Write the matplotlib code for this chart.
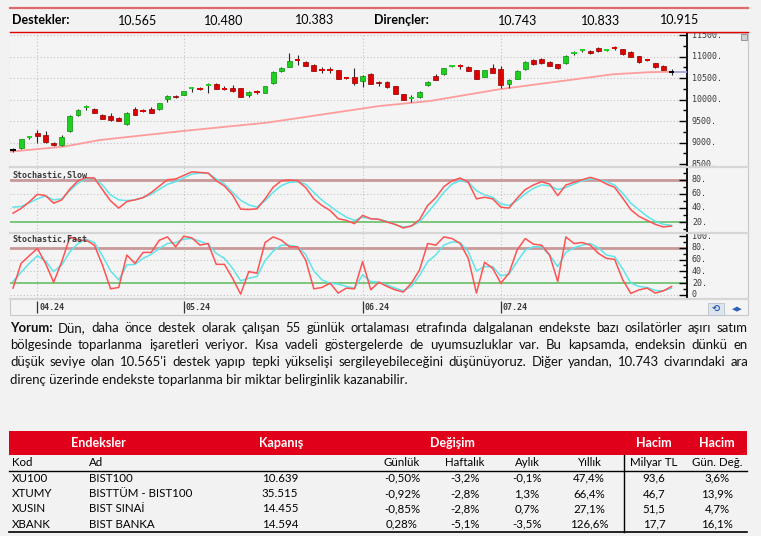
import matplotlib.pyplot as plt
from matplotlib.patches import Rectangle
from matplotlib.lines import Line2D
from matplotlib.transforms import Bbox, TransformedBbox, offset_copy
from matplotlib.ticker import MultipleLocator

# ---------------- data ----------------
support_levels = ['10.565', '10.480', '10.383']
resistance_levels = ['10.743', '10.833', '10.915']

opens = [8830, 8869, 9120, 9232, 9179, 8986, 8946, 9272, 9644, 9810,
         9777, 9644, 9621, 9581, 9435, 9791, 9745, 9777, 9777, 10009,
         10093, 10109, 10260, 10270, 10335, 10365, 10270, 10279, 10265, 10109,
         10178, 10163, 10381, 10667, 10767, 10930, 10869, 10807, 10695, 10695,
         10690, 10505, 10521, 10442, 10598, 10420, 10419, 10319, 10132, 10020,
         10070, 10342, 10551, 10590, 10775, 10800, 10767, 10690, 10535, 10744,
         10714, 10365, 10481, 10707, 10923, 10939, 10884, 10823, 10846, 11070,
         11135, 11140, 11195, 11150, 11215, 11172, 11116, 11016, 10930, 10846,
         10791, 10639]
highs = [8880, 9085, 9160, 9295, 9280, 9010, 9180, 9640, 9780, 9880,
         9810, 9660, 9680, 9600, 9720, 9820, 9780, 9820, 9930, 10110,
         10110, 10210, 10280, 10300, 10395, 10380, 10310, 10350, 10280, 10210,
         10220, 10330, 10660, 10760, 11093, 11040, 10900, 10820, 10770, 10750,
         10700, 10530, 10730, 10570, 10610, 10440, 10440, 10330, 10140, 10100,
         10200, 10430, 10600, 10740, 10800, 10840, 10780, 10700, 10700, 10830,
         10790, 10480, 10680, 10890, 10940, 10960, 10900, 10830, 11030, 11140,
         11150, 11160, 11230, 11175, 11250, 11180, 11125, 11020, 10950, 10860,
         10810, 10720]
lows = [8790, 8860, 9090, 8990, 9000, 8920, 8930, 9250, 9630, 9770,
        9690, 9540, 9510, 9500, 9420, 9640, 9710, 9680, 9770, 9950,
        10040, 10100, 10190, 10220, 10150, 10240, 10230, 10180, 10060, 10060,
        10140, 10150, 10370, 10650, 10750, 10807, 10780, 10670, 10630, 10620,
        10470, 10470, 10340, 10300, 10360, 10320, 10280, 10130, 9990, 9953,
        10050, 10330, 10450, 10580, 10760, 10720, 10670, 10480, 10525, 10620,
        10265, 10265, 10470, 10700, 10800, 10830, 10780, 10720, 10840, 11040,
        11120, 11060, 11120, 11140, 11150, 11040, 10990, 10860, 10890, 10740,
        10680, 10580]
closes = [8830, 9078, 9130, 9155, 9023, 8939, 9125, 9621, 9760, 9820,
          9698, 9544, 9528, 9511, 9698, 9644, 9730, 9698, 9916, 10086,
          10056, 10202, 10270, 10260, 10345, 10242, 10260, 10209, 10070, 10186,
          10168, 10319, 10651, 10744, 10907, 10918, 10791, 10674, 10685, 10685,
          10474, 10495, 10381, 10551, 10365, 10380, 10288, 10132, 9993, 10045,
          10186, 10419, 10458, 10730, 10790, 10785, 10674, 10481, 10690, 10628,
          10342, 10458, 10674, 10884, 10823, 10846, 10791, 10730, 11023, 11085,
          11145, 11079, 11133, 11160, 11205, 11063, 11000, 10869, 10920, 10753,
          10690, 10639]

# 55-day moving average, read at a few points (bar number, value)
ma_pos = [0.6, 7.2, 11.7, 21.9, 32.2, 46.1, 52.3, 60.8, 74.8, 79.0, 81.8]
ma_vals = [8791, 8907, 9063, 9272, 9465, 9854, 9970, 10242, 10591, 10637, 10651]

slow_k = [32.7, 39.3, 48.7, 59.4, 57.5, 46.8, 51.5, 66.9, 78.6, 82.8,
          82.4, 66.0, 50.1, 39.8, 49.1, 51.5, 54.7, 61.8, 71.1, 80.0,
          81.0, 86.1, 91.2, 90.3, 89.4, 78.6, 71.1, 58.5, 38.4, 37.9,
          38.8, 52.9, 69.3, 78.6, 79.5, 78.6, 68.8, 52.9, 43.5, 36.5,
          24.8, 22.4, 17.8, 29.5, 24.8, 23.9, 20.1, 16.8, 11.7, 14.5,
          23.4, 43.5, 54.7, 70.2, 78.6, 82.4, 76.3, 52.9, 55.2, 52.9,
          41.2, 39.8, 53.8, 66.0, 72.5, 77.2, 73.9, 57.5, 72.5, 76.3,
          80.0, 83.3, 80.0, 73.9, 69.2, 53.8, 37.4, 28.1, 22.4, 16.8,
          13.1, 14.5]
slow_d = [41.2, 42.1, 47.2, 52.9, 57.1, 51.5, 52.9, 64.6, 75.3, 81.4,
          82.4, 72.5, 58.5, 51.5, 50.5, 51.5, 54.7, 59.4, 66.4, 73.5,
          77.2, 82.8, 88.0, 89.4, 89.4, 81.0, 73.9, 62.2, 51.0, 44.4,
          41.2, 50.1, 62.2, 71.6, 76.3, 77.2, 73.5, 62.2, 51.0, 42.6,
          34.2, 27.1, 22.4, 27.1, 24.8, 23.9, 21.1, 16.4, 13.1, 14.5,
          20.1, 33.2, 47.2, 62.2, 73.9, 78.6, 76.3, 64.6, 58.5, 55.2,
          45.8, 43.5, 50.5, 59.9, 67.8, 72.5, 71.6, 66.0, 69.2, 73.9,
          78.6, 81.0, 80.0, 77.2, 72.5, 60.8, 46.8, 37.4, 28.1, 21.1,
          16.8, 15.4]
fast_k = [11.3, 53.6, 66.6, 79.0, 53.6, 21.4, 56.5, 98.8, 93.2, 93.2,
          84.7, 50.8, 10.1, 12.4, 67.8, 53.6, 72.3, 72.3, 93.2, 98.8,
          81.9, 100.0, 97.1, 84.7, 87.5, 51.9, 51.9, 28.2, 1.1, 39.5,
          36.7, 89.2, 98.8, 93.2, 81.9, 81.9, 59.3, 10.1, 12.4, 19.7,
          2.8, 11.3, 10.1, 56.5, 8.4, 21.4, 14.1, 8.4, 4.5, 19.7,
          42.3, 87.5, 84.7, 98.8, 96.0, 87.5, 62.1, 2.8, 55.3, 45.2,
          19.7, 36.7, 76.2, 96.0, 86.4, 84.7, 67.8, 22.6, 98.8, 87.5,
          89.2, 84.7, 70.6, 62.1, 60.4, 25.4, 2.2, 8.4, 11.3, 2.8,
          6.7, 14.1]
fast_d = [22.6, 38.4, 53.6, 66.6, 57.6, 39.5, 50.8, 73.4, 87.5, 94.9,
          89.2, 66.6, 40.6, 25.4, 50.8, 51.9, 62.1, 68.9, 79.0, 87.5,
          89.2, 94.9, 96.0, 91.5, 85.8, 70.6, 62.1, 45.2, 23.7, 28.2,
          31.0, 58.2, 74.5, 84.7, 84.7, 81.9, 68.9, 40.6, 25.4, 19.7,
          18.1, 14.1, 11.3, 33.9, 22.6, 21.4, 16.9, 11.3, 6.7, 14.1,
          32.7, 56.5, 67.8, 84.7, 90.4, 89.2, 73.4, 40.6, 48.0, 48.0,
          32.2, 35.0, 56.5, 76.2, 81.9, 81.9, 67.8, 48.0, 72.3, 80.2,
          84.7, 87.5, 80.2, 67.8, 65.0, 44.0, 19.7, 14.1, 12.4, 7.3,
          6.7, 11.3]

month_pos = [4, 22, 44, 61]
month_labels = ['04.24', '05.24', '06.24', '07.24']
price_ticks = [8500, 9000, 9500, 10000, 10500, 11000, 11500]
slow_ticks = [20, 40, 60, 80]
fast_ticks = [0, 20, 40, 60, 80, 100]

comment_lines = [
    "Yorum: Dün, daha önce destek olarak çalışan 55 günlük ortalaması etrafında dalgalanan endekste bazı osilatörler aşırı satım",
    "bölgesinde toparlanma işaretleri veriyor. Kısa vadeli göstergelerde de uyumsuzluklar var. Bu kapsamda, endeksin dünkü en",
    "düşük seviye olan 10.565'i destek yapıp tepki yükselişi sergileyebileceğini düşünüyoruz. Diğer yandan, 10.743 civarındaki ara",
    "direnç üzerinde endekste toparlanma bir miktar belirginlik kazanabilir.",
]

codes = ['XU100', 'XTUMY', 'XUSIN', 'XBANK']
names = ['BIST100', 'BISTTÜM - BIST100', 'BIST SINAİ', 'BIST BANKA']
close_vals = ['10.639', '35.515', '14.455', '14.594']
daily = ['-0,50%', '-0,92%', '-0,85%', '0,28%']
weekly = ['-3,2%', '-2,8%', '-2,8%', '-5,1%']
monthly = ['-0,1%', '1,3%', '0,7%', '-3,5%']
yearly = ['47,4%', '66,4%', '27,1%', '126,6%']
volume = ['93,6', '46,7', '51,5', '17,7']
volume_chg = ['3,6%', '13,9%', '4,7%', '16,1%']

# ---------------- layout ----------------
FONT = ['Lato', 'DejaVu Sans']
MONO = 'DejaVu Sans Mono'
W, H = 761, 536
BG = '#f2f2f2'
PANEL = '#f4f4f4'
X0, X1 = 0.63, 83.9
GREEN = '#1fd11f'
RED = '#e00000'

fig = plt.figure(figsize=(W / 100, H / 100), dpi=100)
fig.patch.set_facecolor(BG)


def fx(x):
    return x / W


def fy(y):
    return 1 - y / H


def hline(x0, x1, y, color, lw):
    fig.add_artist(Line2D([fx(x0), fx(x1)], [fy(y), fy(y)], color=color, lw=lw))


def vline(x, y0, y1, color, lw):
    fig.add_artist(Line2D([fx(x), fx(x)], [fy(y0), fy(y1)], color=color, lw=lw))


def panel(y0, y1):
    ax = fig.add_axes([fx(10), fy(y1), (687 - 10) / W, (y1 - y0) / H])
    ax.set_facecolor(PANEL)
    for s in ['top', 'left', 'bottom']:
        ax.spines[s].set_visible(False)
    ax.spines['right'].set_linewidth(1.3)
    ax.yaxis.tick_right()
    ax.tick_params(axis='y', which='both', direction='in', labelright=False, width=1)
    ax.tick_params(axis='y', which='major', length=6)
    ax.tick_params(axis='y', which='minor', length=3)
    ax.tick_params(axis='x', which='both', bottom=False, labelbottom=False)
    ax.set_xlim(X0, X1)
    for m in month_pos:
        ax.axvline(m, color='#c2c2c2', lw=0.8, ls=(0, (1, 2)), zorder=0)
    return ax


def right_labels(ax, ticks, fmt, y0, y1):
    tr = offset_copy(ax.get_yaxis_transform(), fig=fig, x=5, y=0, units='dots')
    clip = TransformedBbox(Bbox([[fx(687), fy(y1)], [fx(748), fy(y0)]]), fig.transFigure)
    for v in ticks:
        t = ax.text(1, v, fmt(v), transform=tr, family=MONO, fontsize=6,
                    color='#3a3a3a', va='center', ha='left')
        t.set_clip_box(clip)
        t.set_clip_on(True)


# header with support / resistance levels
hline(10, 748, 8, '#e06a6a', 1.6)
hline(10, 748, 32.3, '#e00000', 1.0)
fig.text(fx(12), fy(20.5), 'Destekler:', family=FONT, fontsize=9, fontweight='bold', va='center')
fig.text(fx(374), fy(20.5), 'Dirençler:', family=FONT, fontsize=9, fontweight='bold', va='center')
for lvl, xc, yc in zip(support_levels, [138, 224, 315], [21, 21, 19.5]):
    fig.text(fx(xc), fy(yc), lvl, family=FONT, fontsize=9, ha='center', va='center')
for lvl, xc, yc in zip(resistance_levels, [518, 601, 680], [21, 21, 19.5]):
    fig.text(fx(xc), fy(yc), lvl, family=FONT, fontsize=9, ha='center', va='center')

# chart frame background
fig.add_artist(Rectangle((fx(9.5), fy(315)), (748 - 9.5) / W, (315 - 33) / H,
                         transform=fig.transFigure, facecolor=PANEL, edgecolor='#c8c8c8', lw=0.8, zorder=0))

# ---- price panel ----
ax = panel(33, 166)
ax.set_ylim(8458, 11551)
ax.yaxis.set_major_locator(MultipleLocator(500))
ax.yaxis.set_minor_locator(MultipleLocator(250))
for v in price_ticks[1:]:
    ax.axhline(v, color='#c2c2c2', lw=0.8, ls=(0, (1, 2)), zorder=0)
ax.plot(ma_pos, ma_vals, color='#ff9c9c', lw=1.3, zorder=2)
for i, (o, h, l, c) in enumerate(zip(opens, highs, lows, closes)):
    n = i + 1
    col = GREEN if c > o else (RED if c < o else 'black')
    ax.vlines(n, l, h, color='#2a2a2a', lw=0.8, zorder=3)
    if abs(c - o) < 30:
        ax.hlines(c, n - 0.32, n + 0.32, color=col, lw=1.4, zorder=4)
    else:
        edge = '#0b8f0b' if c > o else '#8f0000'
        ax.add_patch(Rectangle((n - 0.3, min(o, c)), 0.6, abs(c - o),
                               facecolor=col, edgecolor=edge, lw=0.5, zorder=4))
ax.hlines(closes[-1], len(closes) + 0.3, X1, color='#a2a2dc', lw=1.3, zorder=3)
right_labels(ax, price_ticks, lambda v: f'{v:.0f}.', 33, 166)

# ---- stochastic slow ----
ax2 = panel(167.5, 232)
ax2.set_ylim(6, 97.3)
ax2.yaxis.set_major_locator(MultipleLocator(20))
ax2.yaxis.set_minor_locator(MultipleLocator(10))
for v in [40, 60]:
    ax2.axhline(v, color='#c2c2c2', lw=0.8, ls=(0, (1, 2)), zorder=0)
ax2.axhline(80, color='#c99999', lw=2, zorder=1)
ax2.axhline(20, color='#5cb85c', lw=1.1, zorder=1)
bars = range(1, len(slow_k) + 1)
ax2.plot(bars, slow_d, color='#5fe4ea', lw=1.1, zorder=2)
ax2.plot(bars, slow_k, color='#ff5252', lw=1.1, zorder=3)
ax2.text(0.003, 0.94, 'Stochastic,Slow', transform=ax2.transAxes, family=MONO, fontsize=6,
         fontweight='bold', color='#3a3a3a', va='top')
right_labels(ax2, slow_ticks, lambda v: f'{v:.0f}.', 167, 232)

# ---- stochastic fast ----
ax3 = panel(233.5, 298)
ax3.set_ylim(-5.6, 104.6)
ax3.yaxis.set_major_locator(MultipleLocator(20))
ax3.yaxis.set_minor_locator(MultipleLocator(10))
for v in [0, 40, 60]:
    ax3.axhline(v, color='#c2c2c2', lw=0.8, ls=(0, (1, 2)), zorder=0)
ax3.axhline(80, color='#c99999', lw=2, zorder=1)
ax3.axhline(20, color='#5cb85c', lw=1.1, zorder=1)
ax3.plot(bars, fast_d, color='#5fe4ea', lw=1.1, zorder=2)
ax3.plot(bars, fast_k, color='#ff5252', lw=1.1, zorder=3)
ax3.text(0.003, 0.97, 'Stochastic,Fast', transform=ax3.transAxes, family=MONO, fontsize=6,
         fontweight='bold', color='#3a3a3a', va='top')
right_labels(ax3, fast_ticks, lambda v: f'{v:.0f}.' if v else '0', 233, 298)

# panel separators
for ys in [166.7, 232.7, 298.5]:
    hline(9.5, 748, ys, '#d6d6d6', 1.6)

# ---- date row ----
axd = fig.add_axes([fx(10), fy(314), (687 - 10) / W, 15 / H])
axd.set_xlim(X0, X1)
axd.set_ylim(0, 1)
axd.axis('off')
lab_tr = offset_copy(axd.transData, fig=fig, x=2, y=0, units='dots')
for m, lab in zip(month_pos, month_labels):
    axd.vlines(m, 0.1, 0.85, color='#333333', lw=0.9)
    axd.text(m, 0.45, lab, transform=lab_tr, family=MONO, fontsize=6, fontweight='bold',
             color='#3a3a3a', va='center', ha='left')

# small toolbar icons
fig.add_artist(Rectangle((fx(741), fy(40)), 6 / W, 6 / H, transform=fig.transFigure,
                         facecolor='#d0d0d0', edgecolor='#8a8a8a', lw=0.6))
fig.add_artist(Rectangle((fx(708), fy(315)), 16 / W, 12 / H, transform=fig.transFigure,
                         facecolor='#dde4ee', edgecolor='#b9c2cf', lw=0.6))
fig.text(fx(716), fy(309), '⟲', family='DejaVu Sans', fontsize=7, color='#2c5fb8',
         ha='center', va='center', fontweight='bold')
fig.text(fx(737), fy(309), '◀▶', family='DejaVu Sans', fontsize=5, color='#2c5fb8',
         ha='center', va='center')

# ---- comment paragraph ----
renderer = fig.canvas.get_renderer()
probe = fig.text(0, 0, comment_lines[3], family=FONT, fontsize=10)
fs = 10 * 399 / probe.get_window_extent(renderer).width
probe.remove()

line_y = [328, 345, 362, 380]
for k, (line, yl) in enumerate(zip(comment_lines, line_y)):
    if k == len(comment_lines) - 1:
        fig.text(fx(10), fy(yl), line, family=FONT, fontsize=fs, va='center', color='#111111')
        continue
    words = line.split(' ')
    texts = []
    for j, wd in enumerate(words):
        bold = (k == 0 and j == 0)
        texts.append(fig.text(0, fy(yl), wd, family=FONT, fontsize=fs, va='center',
                              color='#111111', fontweight='bold' if bold else 'normal'))
    widths = [t.get_window_extent(renderer).width for t in texts]
    gap = (748 - 10 - sum(widths)) / (len(words) - 1)
    xp = 10
    for t, wdt in zip(texts, widths):
        t.set_x(fx(xp))
        xp += wdt + gap

# ---- table ----
fig.add_artist(Rectangle((fx(9), fy(454.5)), (747 - 9) / W, 23.5 / H, transform=fig.transFigure,
                         facecolor='#e1001a', edgecolor='none'))
for lab, xc in zip(['Endeksler', 'Kapanış', 'Değişim', 'Hacim', 'Hacim'], [98, 281, 452, 654, 717]):
    fig.text(fx(xc), fy(443), lab, family=FONT, fontsize=9, fontweight='bold', color='white',
             ha='center', va='center')

col_x = [402, 465, 527, 589, 654, 717]
fig.text(fx(12), fy(463), 'Kod', family=FONT, fontsize=8.3, va='center')
fig.text(fx(89), fy(463), 'Ad', family=FONT, fontsize=8.3, va='center')
for lab, xc in zip(['Günlük', 'Haftalık', 'Aylık', 'Yıllık', 'Milyar TL', 'Gün. Değ.'], col_x):
    fig.text(fx(xc), fy(463), lab, family=FONT, fontsize=8.3, ha='center', va='center')
hline(9, 747, 470.5, 'black', 1.0)
vline(624, 455, 531.5, 'black', 1.0)
hline(9, 747, 531.5, 'black', 1.2)

row_y = [478, 493.5, 509, 524]
for r, yr in enumerate(row_y):
    fig.text(fx(12), fy(yr), codes[r], family=FONT, fontsize=8.3, va='center')
    fig.text(fx(89), fy(yr), names[r], family=FONT, fontsize=8.3, va='center')
    fig.text(fx(280), fy(yr), close_vals[r], family=FONT, fontsize=8.3, ha='center', va='center')
    for vals, xc in zip([daily, weekly, monthly, yearly, volume, volume_chg], col_x):
        fig.text(fx(xc), fy(yr), vals[r], family=FONT, fontsize=8.3, ha='center', va='center')

fig.savefig('out.png', dpi=100, facecolor=BG)
